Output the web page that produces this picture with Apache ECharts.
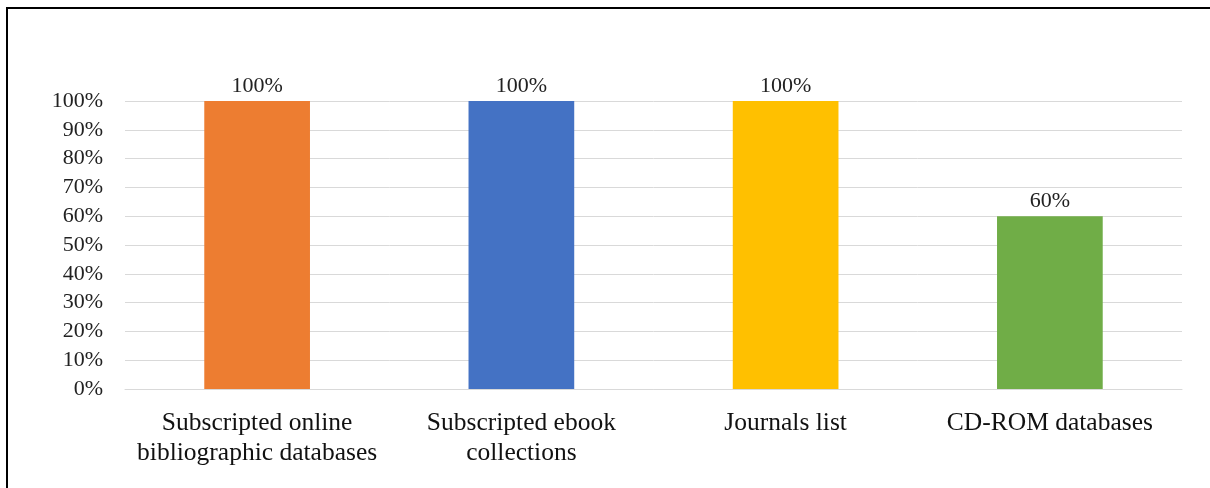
<!DOCTYPE html>
<html>
<head>
<meta charset="utf-8">
<style>
  html, body { margin: 0; padding: 0; background: #ffffff; }
  #frame { position: absolute; left: 0; top: 0; width: 1210px; height: 488px; overflow: hidden; }
  #chart { position: absolute; left: 0; top: 0; width: 1210px; height: 488px; }
  #edgeTop { position: absolute; left: 6px; top: 7px; width: 1204px; height: 2px; background: #000; }
  #edgeLeft { position: absolute; left: 6px; top: 7px; width: 2px; height: 481px; background: #000; }
</style>
<script src="https://cdn.jsdelivr.net/npm/echarts@6/dist/echarts.min.js"></script>
</head>
<body>
<div id="frame">
  <div id="chart"></div>
  <div id="edgeTop"></div>
  <div id="edgeLeft"></div>
</div>
<script>
  // Resource types and the share of libraries offering each
  const categories = [
    'Subscripted online\nbibliographic databases',
    'Subscripted ebook\ncollections',
    'Journals list',
    'CD-ROM databases'
  ];
  const shares = [100, 100, 100, 60];
  const barColors = ['#ED7D31', '#4472C4', '#FFC000', '#70AD47'];

  const serif = '"Liberation Serif", "DejaVu Serif", serif';
  const chart = echarts.init(document.getElementById('chart'));

  chart.setOption({
    animation: false,
    grid: { left: 125, right: 28, top: 101, bottom: 99, containLabel: false },
    xAxis: {
      type: 'category',
      data: categories,
      axisLine: { show: true, lineStyle: { color: '#d9d9d9', width: 1 } },
      axisTick: { show: false },
      axisLabel: {
        interval: 0,
        margin: 19,
        fontFamily: serif,
        fontSize: 25.5,
        lineHeight: 30,
        color: '#111'
      }
    },
    yAxis: {
      type: 'value',
      min: 0,
      max: 100,
      interval: 10,
      axisLine: { show: false },
      axisTick: { show: false },
      splitLine: { lineStyle: { color: '#d9d9d9', width: 1 } },
      axisLabel: {
        margin: 22,
        fontFamily: serif,
        fontSize: 22,
        color: '#222',
        formatter: v => v + '%'
      }
    },
    series: [{
      type: 'bar',
      barWidth: '40%',
      data: shares.map((v, i) => ({ value: v, itemStyle: { color: barColors[i] } })),
      label: {
        show: true,
        position: 'top',
        distance: 4,
        fontFamily: serif,
        fontSize: 22,
        color: '#222',
        formatter: p => p.value + '%'
      }
    }]
  });
</script>
</body>
</html>
